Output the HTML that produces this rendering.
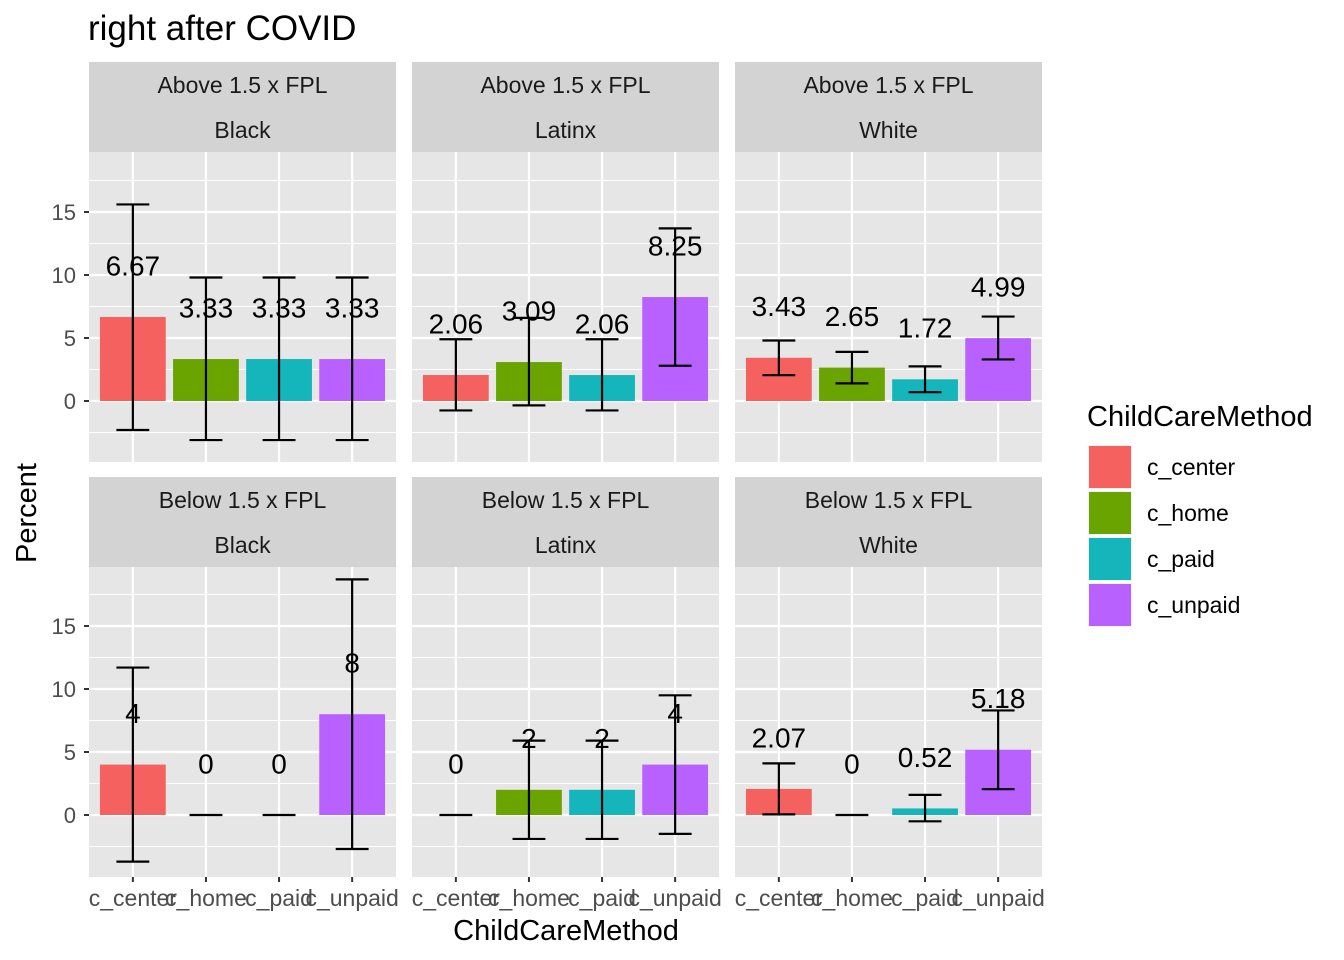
<!DOCTYPE html>
<html><head><meta charset="utf-8"><style>body{margin:0;background:#fff}svg{display:block;font-family:"Liberation Sans",Arial,sans-serif}</style></head>
<body>
<svg id="c" width="1344" height="960"></svg>
<script>
const categories=["c_center","c_home","c_paid","c_unpaid"];
const races=["Black","Latinx","White"];
const incomes=["Above 1.5 x FPL","Below 1.5 x FPL"];
const labels=[["6.67","3.33","3.33","3.33"],["2.06","3.09","2.06","8.25"],["3.43","2.65","1.72","4.99"],["4","0","0","8"],["0","2","2","4"],["2.07","0","0.52","5.18"]];
const values=[[6.67,3.33,3.33,3.33],[2.06,3.09,2.06,8.25],[3.43,2.65,1.72,4.99],[4,0,0,8],[0,2,2,4],[2.07,0,0.52,5.18]];
const upper=[[15.6,9.8,9.8,9.8],[4.9,6.6,4.9,13.7],[4.8,3.9,2.75,6.7],[11.7,0,0,18.7],[0,5.9,5.9,9.5],[4.1,0,1.6,8.3]];
const lower=[[-2.3,-3.1,-3.1,-3.1],[-0.75,-0.35,-0.75,2.8],[2.05,1.4,0.7,3.3],[-3.7,0,0,-2.7],[0,-1.9,-1.9,-1.5],[0.05,0,-0.5,2.05]];
const yTicks=[0,5,10,15];
const yMinor=[-2.5,2.5,7.5,12.5,17.5];
const colors=["#F4615E","#6AA400","#14B5BB","#B861FF"];
const svg=document.getElementById('c');const NS="http://www.w3.org/2000/svg";
function el(t,a,p,txt){const e=document.createElementNS(NS,t);for(const k in a)e.setAttribute(k,a[k]);if(txt!==undefined)e.textContent=txt;(p||svg).appendChild(e);return e;}
const panelX=[89,412,735],panelW=307;
const rowTop=[152,567],zeroY=[401,815],ppu=12.6,panelH=310;
function xs(px,i){return px+(i+1-0.4)*panelW/4.2;}
function ys(r,v){return zeroY[r]-v*ppu;}
let t=el('text',{x:88,y:40,'font-size':35,fill:'#000'},svg,'right after COVID');

for(let r=0;r<2;r++)for(let c=0;c<3;c++){
 const k=r*3+c,px=panelX[c],top=rowTop[r];
 const g=el('g',{});
 const s=el('rect',{x:px,y:top-90,width:panelW,height:90,fill:'#D3D3D3'},g);
 el('text',{x:px+panelW/2,y:top-59,'font-size':23,fill:'#1A1A1A','text-anchor':'middle'},g,incomes[r]);
 el('text',{x:px+panelW/2,y:top-14,'font-size':23,fill:'#1A1A1A','text-anchor':'middle'},g,races[c]);
 el('rect',{x:px,y:top,width:panelW,height:panelH,fill:'#E6E6E6'},g);
 yMinor.forEach(v=>el('line',{x1:px,x2:px+panelW,y1:ys(r,v),y2:ys(r,v),stroke:'#fff','stroke-width':1.1},g));
 yTicks.forEach(v=>el('line',{x1:px,x2:px+panelW,y1:ys(r,v),y2:ys(r,v),stroke:'#fff','stroke-width':2.2},g));
 categories.forEach((cat,i)=>el('line',{x1:xs(px,i),x2:xs(px,i),y1:top,y2:top+panelH,stroke:'#fff','stroke-width':2.2},g));
 categories.forEach((cat,i)=>{
  const x=xs(px,i),w=0.9*panelW/4.2,v=values[k][i];
  const b=el('rect',{x:x-w/2,y:Math.min(ys(r,v),ys(r,0)),width:w,height:Math.abs(ys(r,v)-ys(r,0)),fill:colors[i]},g);
  
  const hw=w/4,yu=ys(r,upper[k][i]),yl=ys(r,lower[k][i]);
  const e=el('path',{d:`M${x-hw},${yu}H${x+hw}M${x},${yu}V${yl}M${x-hw},${yl}H${x+hw}`,stroke:'#000','stroke-width':2.2,fill:'none'},g);
  
  const l=el('text',{x:x,y:ys(r,v+4.1)+10,'font-size':28,'text-anchor':'middle',fill:'#000'},g,labels[k][i]);
  
  if(r==1){el('line',{x1:x,x2:x,y1:top+panelH,y2:top+panelH+5,stroke:'#333','stroke-width':2},g);
   const xl=el('text',{x:x,y:906,'font-size':23,'text-anchor':'middle',fill:'#4D4D4D'},g,cat);}
 });
 if(c==0)yTicks.forEach(v=>{el('line',{x1:px-5,x2:px,y1:ys(r,v),y2:ys(r,v),stroke:'#333','stroke-width':2},g);
  const yl=el('text',{x:76,y:ys(r,v)+8,'font-size':22,'text-anchor':'end',fill:'#4D4D4D'},g,v);});
}
t=el('text',{x:566,y:940,'font-size':29,'text-anchor':'middle',fill:'#000'},svg,'ChildCareMethod');
t=el('text',{x:36,y:513,'font-size':29,'text-anchor':'middle',fill:'#000',transform:'rotate(-90 36 513)'},svg,'Percent');
const lg=el('g',{});
el('text',{x:1087,y:426,'font-size':29,fill:'#000'},lg,'ChildCareMethod');
categories.forEach((cat,i)=>{const y=445+i*46;
 const e=el('g',{},lg);
 el('rect',{x:1088,y:y,width:44,height:44,fill:'#F2F2F2'},e);
 el('rect',{x:1089,y:y+1,width:42,height:42,fill:colors[i]},e);
 el('text',{x:1147,y:y+30,'font-size':23,fill:'#000'},e,cat);});
</script>
</body></html>
